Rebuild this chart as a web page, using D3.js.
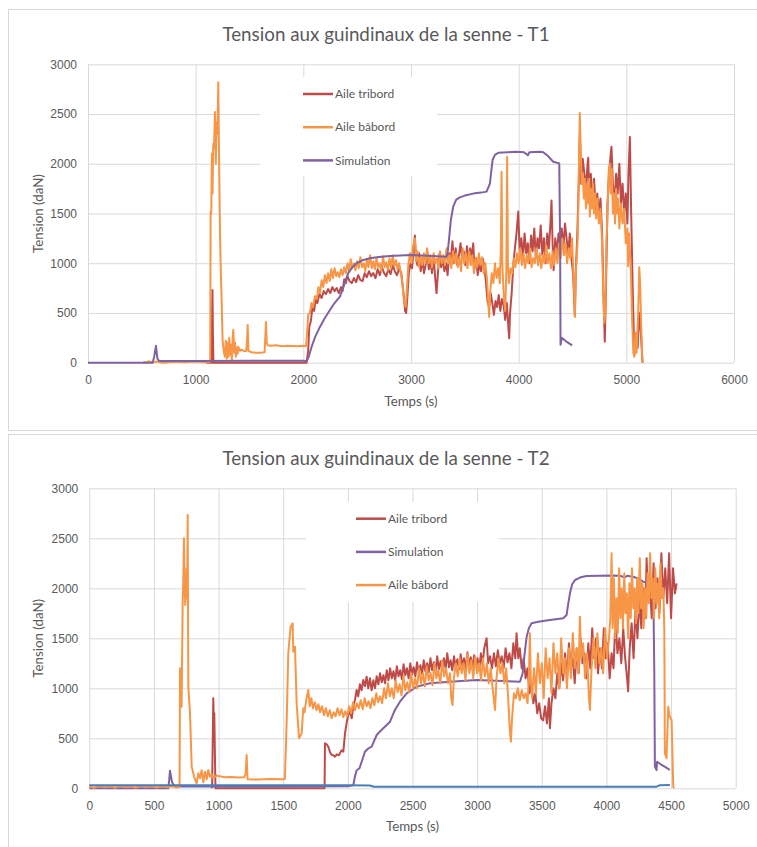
<!DOCTYPE html>
<html>
<head>
<meta charset="utf-8">
<script src="https://cdn.jsdelivr.net/npm/d3@7"></script>
<style>
  body { margin: 0; background: #fff; }
  svg { display: block; font-family: Lato, 'Open Sans', sans-serif; }
</style>
</head>
<body>
<script>
// ---- T1 : [temps (s), tension (daN)] ----
const t1Tribord = [
  [1100,0],[1150,0],[1152,420],[1156,730],[1160,300],[1165,0],[2030,0],[2045,120],[2055,360],[2070,420],
  [2085,560],[2100,520],[2115,640],[2130,600],[2150,690],[2170,650],[2190,720],[2210,690],[2230,740],[2250,700],
  [2270,760],[2290,720],[2310,750],[2330,700],[2350,760],[2365,720],[2380,840],[2395,800],[2410,870],[2430,820],
  [2450,800],[2470,850],[2490,810],[2510,880],[2530,830],[2550,820],[2570,900],[2590,860],[2610,920],[2630,870],
  [2650,900],[2670,850],[2690,940],[2710,880],[2730,960],[2750,900],[2770,870],[2790,940],[2810,890],[2830,980],
  [2850,920],[2870,880],[2890,950],[2910,900],[2930,700],[2945,520],[2955,500],[2965,640],[2980,900],[2995,1000],
  [3010,950],[3025,1150],[3036,1280],[3045,1050],[3060,980],[3075,1100],[3090,920],[3105,1050],[3120,900],[3135,980],
  [3150,1120],[3165,940],[3180,1020],[3195,900],[3210,1080],[3225,850],[3237,700],[3250,900],[3265,1100],[3280,960],
  [3295,1050],[3310,920],[3325,1000],[3340,880],[3355,1100],[3370,1050],[3385,1220],[3400,1000],[3415,1150],[3430,980],
  [3445,1080],[3460,1200],[3475,1050],[3490,1120],[3505,980],[3520,1170],[3535,1040],[3550,1150],[3565,1060],[3578,1200],
  [3590,950],[3605,1050],[3620,880],[3635,1000],[3650,920],[3665,1050],[3680,980],[3695,820],[3710,620],[3725,560],
  [3740,700],[3755,600],[3770,480],[3785,620],[3800,560],[3815,680],[3830,520],[3845,640],[3860,580],[3875,430],
  [3890,600],[3905,350],[3912,245],[3920,500],[3935,700],[3950,980],[3965,1150],[3980,1300],[3996,1520],[4010,1100],
  [4025,1250],[4040,1050],[4055,1300],[4070,1100],[4085,1200],[4100,1000],[4115,1280],[4130,1120],[4145,1350],[4160,1050],
  [4175,1250],[4190,1150],[4205,1380],[4220,1080],[4235,1250],[4250,1000],[4265,1300],[4280,1150],[4295,1400],[4305,1630],
  [4315,1200],[4325,930],[4340,1250],[4355,1100],[4370,1300],[4385,1200],[4400,1350],[4415,1150],[4430,1400],[4445,1250],
  [4460,1100],[4475,1300],[4490,1050],[4505,900],[4515,650],[4522,470],[4530,900],[4545,1300],[4560,1900],[4568,2300],
  [4580,1800],[4595,2050],[4610,1900],[4625,1750],[4640,2000],[4646,2060],[4655,1700],[4670,1900],[4685,1600],[4700,1850],
  [4715,1550],[4730,1700],[4745,1500],[4760,1650],[4775,1300],[4790,600],[4800,210],[4810,700],[4825,1600],[4840,1900],
  [4855,2100],[4862,2170],[4875,1800],[4890,1600],[4905,1900],[4920,1700],[4935,2000],[4950,1600],[4965,1800],[4980,1500],
  [4995,1700],[5010,1400],[5020,1900],[5033,2270],[5045,1500],[5060,700],[5075,80],[5090,300],[5105,150],[5120,500],
  [5135,300],[5150,0]
]

const t1Babord = [
  [514,10],[540,0],[560,15],[600,5],[640,12],[700,0],[800,10],[900,5],[1000,12],[1100,5],
  [1135,10],[1139,1520],[1145,1500],[1151,2100],[1157,1700],[1163,2200],[1170,2150],[1179,2520],[1187,2000],[1195,2420],
  [1202,2300],[1210,2820],[1218,2000],[1226,1300],[1234,900],[1241,630],[1250,230],[1260,120],[1272,60],[1280,220],
  [1288,40],[1296,200],[1304,60],[1312,250],[1320,80],[1328,180],[1336,30],[1344,260],[1350,330],[1358,100],
  [1366,200],[1374,60],[1382,150],[1390,90],[1396,160],[1410,120],[1430,130],[1450,115],[1470,120],[1478,250],
  [1483,380],[1490,120],[1520,105],[1560,100],[1600,100],[1640,105],[1648,280],[1653,410],[1660,200],[1670,175],
  [1700,170],[1750,175],[1800,165],[1850,170],[1900,168],[1950,165],[2000,170],[2025,165],[2035,300],[2045,480],
  [2061,500],[2075,600],[2090,560],[2108,670],[2125,640],[2140,760],[2155,700],[2170,830],[2185,760],[2200,880],
  [2215,800],[2230,900],[2245,820],[2260,940],[2275,850],[2290,950],[2305,870],[2320,910],[2335,860],[2350,940],
  [2365,880],[2380,960],[2395,900],[2410,1000],[2425,920],[2440,1040],[2455,950],[2470,1000],[2485,930],[2500,1020],
  [2515,950],[2530,1060],[2545,960],[2560,1000],[2575,920],[2590,1040],[2605,960],[2620,1080],[2635,950],[2650,1020],
  [2665,940],[2680,1050],[2695,960],[2710,1000],[2725,920],[2740,1070],[2755,960],[2770,1010],[2785,930],[2800,1050],
  [2815,950],[2830,1080],[2845,970],[2860,1030],[2875,940],[2890,1000],[2905,900],[2920,800],[2935,620],[2950,560],
  [2960,700],[2975,980],[2990,1100],[3005,1000],[3020,1180],[3036,1250],[3048,1020],[3060,1120],[3075,960],[3090,1080],
  [3105,980],[3120,1100],[3135,1000],[3150,1150],[3165,1000],[3180,1080],[3195,960],[3210,1100],[3225,1000],[3240,1050],
  [3255,950],[3270,1120],[3285,1000],[3300,1080],[3315,980],[3330,1150],[3345,1000],[3360,1080],[3375,950],[3390,1120],
  [3405,1000],[3420,1100],[3435,960],[3450,1060],[3465,920],[3480,1150],[3495,1000],[3510,1100],[3525,950],[3540,1120],
  [3555,980],[3570,1080],[3585,900],[3600,1050],[3615,960],[3630,1100],[3645,980],[3660,1060],[3675,900],[3690,1000],
  [3705,850],[3718,600],[3726,460],[3735,700],[3750,900],[3765,800],[3780,1000],[3795,850],[3810,950],[3825,800],
  [3835,1200],[3841,1920],[3848,1000],[3860,700],[3875,520],[3885,900],[3893,2070],[3900,1000],[3910,800],[3925,950],
  [3940,900],[3955,1050],[3970,960],[3985,1100],[4000,1000],[4015,1150],[4030,980],[4045,1100],[4060,950],[4075,1080],
  [4090,1000],[4105,1150],[4120,960],[4135,1050],[4150,1000],[4165,1150],[4180,980],[4195,1100],[4210,950],[4225,1080],
  [4240,1000],[4255,1180],[4270,1000],[4285,1100],[4300,950],[4315,1120],[4330,980],[4345,1150],[4360,1000],[4375,1200],
  [4390,1050],[4405,1250],[4420,1080],[4435,1200],[4450,1000],[4465,1150],[4480,1050],[4495,1250],[4505,1000],[4515,700],
  [4522,460],[4530,900],[4540,1050],[4550,1300],[4560,2000],[4568,2510],[4575,2200],[4585,1800],[4595,1900],[4605,1650],
  [4615,1850],[4625,1550],[4635,1800],[4645,1600],[4655,1850],[4661,1470],[4670,1750],[4680,1550],[4690,1800],[4700,1500],
  [4710,1700],[4720,1450],[4730,1650],[4745,1400],[4760,1550],[4775,1200],[4785,700],[4795,400],[4805,500],[4815,1200],
  [4825,1500],[4835,1900],[4845,2000],[4855,1700],[4865,1950],[4875,1500],[4885,1700],[4895,1400],[4905,1750],[4915,1500],
  [4925,1650],[4935,1350],[4950,1600],[4965,1400],[4980,1550],[4995,1200],[5010,1350],[5017,970],[5025,1300],[5040,1000],
  [5055,400],[5065,100],[5075,60],[5085,300],[5095,100],[5110,500],[5120,960],[5128,800],[5140,300],[5150,0]
]

const t1Simulation = [
  [0,0],[600,0],[615,60],[631,170],[645,40],[660,18],[1000,18],[1500,20],[2000,20],[2030,17],
  [2050,60],[2077,160],[2110,260],[2154,360],[2200,450],[2247,530],[2290,600],[2340,665],[2371,760],[2417,900],
  [2455,960],[2494,1000],[2550,1030],[2618,1050],[2700,1062],[2804,1072],[2900,1078],[2990,1082],[3100,1078],[3200,1072],
  [3330,1065],[3340,1100],[3352,1230],[3370,1430],[3392,1570],[3420,1640],[3454,1662],[3500,1680],[3578,1700],[3650,1710],
  [3702,1720],[3733,1800],[3745,1920],[3758,2040],[3780,2090],[3810,2110],[3900,2115],[3980,2120],[4050,2115],[4085,2085],
  [4100,2115],[4200,2120],[4228,2115],[4270,2080],[4321,2020],[4377,2004],[4385,1200],[4389,180],[4400,250],[4440,215],
  [4497,175]
]

// ---- T2 ----
const t2Tribord = [
  [950,0],[955,500],[959,900],[963,700],[967,750],[972,300],[976,0],[1820,0],[1823,450],
  [1836,440],[1849,416],[1862,360],[1875,333],[1888,330],[1900,316],[1915,340],[1930,330],[1939,350],[1952,380],
  [1965,366],[1978,550],[1990,650],[2003,733],[2016,766],[2030,700],[2042,820],[2055,883],[2068,983],[2080,920],
  [2093,1040],[2106,980],[2119,1083],[2132,1020],[2145,1116],[2158,1000],[2171,1100],[2184,980],[2197,1080],[2210,1000],
  [2223,1120],[2236,1040],[2249,1150],[2262,1060],[2275,1130],[2288,1050],[2301,1180],[2314,1080],[2327,1200],[2340,1100],
  [2353,1170],[2366,1080],[2379,1220],[2392,1120],[2405,1180],[2418,1090],[2431,1240],[2444,1130],[2457,1200],[2470,1100],
  [2483,1250],[2496,1140],[2509,1210],[2522,1120],[2535,1260],[2548,1160],[2561,1230],[2574,1140],[2587,1280],[2600,1170],
  [2613,1250],[2626,1160],[2639,1300],[2652,1180],[2665,1260],[2678,1170],[2691,1320],[2704,1190],[2717,1270],[2730,1180],
  [2743,1300],[2756,1200],[2769,1350],[2782,1210],[2795,1280],[2808,1180],[2821,1320],[2834,1210],[2847,1290],[2860,1190],
  [2873,1340],[2886,1220],[2899,1300],[2912,1200],[2925,1360],[2938,1230],[2951,1310],[2964,1200],[2977,1330],[2990,1220],
  [3003,1300],[3016,1180],[3029,1350],[3042,1240],[3055,1400],[3073,1500],[3085,1250],[3100,1320],[3115,1200],[3130,1350],
  [3145,1220],[3160,1380],[3175,1250],[3190,1320],[3205,1200],[3220,1400],[3235,1260],[3250,1350],[3265,1200],[3280,1450],
  [3295,1300],[3305,1550],[3318,1300],[3330,1400],[3345,1200],[3360,1300],[3375,1100],[3390,1200],[3405,950],[3420,1050],
  [3435,850],[3450,950],[3465,750],[3480,850],[3495,700],[3511,680],[3525,820],[3540,650],[3555,900],[3563,600],
  [3575,850],[3590,1000],[3605,900],[3620,1150],[3635,1000],[3650,1250],[3665,1080],[3680,1350],[3695,1100],[3710,1450],
  [3725,1200],[3740,1300],[3755,1050],[3770,1400],[3785,1150],[3800,1500],[3815,1250],[3830,1350],[3845,1100],[3860,1450],
  [3875,1200],[3890,1600],[3905,1300],[3920,1500],[3935,1150],[3950,1400],[3965,1200],[3980,1600],[3995,1300],[4010,1450],
  [4025,1100],[4040,1350],[4055,1200],[4070,1700],[4085,1350],[4100,1500],[4115,1250],[4130,1600],[4145,1300],[4160,1100],
  [4168,970],[4180,1400],[4195,1650],[4210,1300],[4225,1800],[4240,1500],[4255,1900],[4270,1600],[4285,2000],[4300,1700],
  [4311,2300],[4322,1900],[4335,2100],[4350,1700],[4365,2250],[4380,1800],[4395,2100],[4410,1750],[4425,2350],[4440,1900],
  [4455,2200],[4470,1850],[4485,2350],[4500,1700],[4515,2200],[4530,1950],[4543,2050]
]

const t2Simulation = [
  [0,0],[610,0],[618,80],[624,176],[640,60],[660,20],[680,18],[1000,18],[1500,18],[2000,20],
  [2042,30],[2055,120],[2068,180],[2090,200],[2107,266],[2132,366],[2160,400],[2184,416],[2223,533],[2250,570],
  [2274,600],[2326,666],[2364,783],[2403,866],[2455,950],[2532,1016],[2635,1050],[2790,1066],[2996,1083],[3150,1075],
  [3331,1066],[3352,1150],[3368,1350],[3383,1516],[3400,1600],[3421,1650],[3473,1666],[3550,1680],[3666,1700],[3692,1733],
  [3705,1850],[3718,1950],[3735,2040],[3757,2083],[3800,2110],[3847,2123],[3950,2126],[4050,2128],[4104,2126],[4140,2110],
  [4160,2125],[4207,2116],[4250,2095],[4285,2066],[4362,2050],[4370,1200],[4375,216],[4388,183],[4392,266],[4420,240],
  [4460,210],[4491,183]
]

const t2Babord = [
  [0,15],[40,5],[80,25],[120,10],[160,20],[200,5],[240,25],[280,10],[320,20],[360,5],
  [400,25],[440,12],[480,22],[520,8],[560,20],[600,10],[640,20],[680,8],[698,15],[702,1200],
  [708,1150],[714,816],[718,1300],[722,1833],[727,2066],[732,2500],[737,2100],[742,1833],[748,2000],[753,2200],
  [757,1900],[761,2733],[766,1016],[779,750],[792,216],[810,120],[830,50],[843,150],[856,100],[869,180],
  [882,60],[895,166],[908,90],[920,183],[933,116],[946,140],[959,100],[972,116],[985,130],[998,123],
  [1050,110],[1100,112],[1150,108],[1200,110],[1210,150],[1217,333],[1224,90],[1300,88],[1400,92],[1500,90],
  [1513,95],[1527,683],[1539,1350],[1557,1616],[1573,1650],[1578,1366],[1591,1416],[1604,850],[1622,500],[1643,550],
  [1655,800],[1665,760],[1680,900],[1694,983],[1705,820],[1718,900],[1730,800],[1745,860],[1758,780],[1772,840],
  [1785,760],[1800,820],[1815,730],[1830,800],[1845,720],[1860,780],[1875,700],[1890,760],[1905,720],[1920,800],
  [1935,730],[1950,790],[1965,710],[1980,770],[1995,720],[2010,820],[2025,750],[2040,860],[2055,780],[2070,850],
  [2085,800],[2100,880],[2115,790],[2130,900],[2145,820],[2160,870],[2175,800],[2190,900],[2205,830],[2220,950],
  [2235,860],[2250,920],[2265,850],[2280,1000],[2295,900],[2310,1050],[2325,920],[2340,1000],[2355,900],[2370,1080],
  [2385,960],[2400,1040],[2415,930],[2430,1120],[2445,980],[2460,1060],[2475,960],[2490,1150],[2505,1000],[2520,1100],
  [2535,1000],[2550,1200],[2565,1050],[2580,1150],[2595,1020],[2610,1220],[2625,1080],[2640,1150],[2655,1030],[2670,1250],
  [2685,1100],[2700,1180],[2715,1050],[2730,1280],[2745,1120],[2760,1200],[2775,1050],[2790,1150],[2800,900],[2810,833],
  [2820,1100],[2835,1250],[2850,1120],[2865,1300],[2880,1150],[2895,1250],[2910,1080],[2925,1350],[2940,1150],[2955,1280],
  [2970,1100],[2985,1320],[3000,1150],[3015,1250],[3030,1080],[3045,1300],[3060,1120],[3075,1250],[3090,1050],[3105,1200],
  [3120,1000],[3138,783],[3150,1100],[3165,1300],[3180,1150],[3195,1250],[3210,1050],[3225,1200],[3240,900],[3252,600],
  [3261,466],[3270,700],[3285,950],[3300,900],[3315,1000],[3330,880],[3345,980],[3360,900],[3375,950],[3390,850],
  [3400,1100],[3408,1550],[3415,1100],[3425,900],[3440,1200],[3455,950],[3470,1350],[3485,1050],[3500,1250],[3515,900],
  [3530,1400],[3545,1100],[3560,1300],[3575,950],[3590,1450],[3605,1150],[3620,1350],[3635,1000],[3650,1500],[3665,1150],
  [3680,1300],[3695,1000],[3710,1400],[3725,1100],[3740,1550],[3755,1200],[3770,1400],[3785,1150],[3795,1716],[3805,1300],
  [3820,1450],[3835,1100],[3850,1350],[3865,900],[3872,783],[3885,1200],[3900,1500],[3915,1200],[3930,1550],[3945,1250],
  [3960,1400],[3975,1150],[3990,1600],[4005,1300],[4020,1500],[4030,1700],[4040,2350],[4048,1600],[4058,2100],[4068,1500],
  [4078,1900],[4088,1550],[4098,2200],[4108,1700],[4118,2000],[4128,1600],[4138,2150],[4148,1750],[4158,1950],[4168,1500],
  [4178,2050],[4188,1700],[4198,2200],[4208,1800],[4218,2000],[4228,1650],[4238,2100],[4248,1750],[4258,2300],[4268,1800],
  [4278,2050],[4288,1600],[4298,2000],[4308,1700],[4318,2150],[4328,1850],[4338,2350],[4348,1900],[4358,2100],[4368,1700],
  [4378,2200],[4388,1850],[4398,2050],[4408,1700],[4418,2250],[4428,1900],[4440,2000],[4448,1580],[4452,350],[4465,300],
  [4478,816],[4490,720],[4504,683],[4517,16],[4525,0]
]

// serie sans entree de legende (bleue, proche de zero)
const t2Autre = [
  [0,30],[500,30],[1000,30],[1500,30],[2000,30],[2170,28],[2200,16],[3000,16],[4000,16],[4388,16],
  [4410,30],[4491,33]
]

const yTicks = [0, 500, 1000, 1500, 2000, 2500, 3000]
const t1XTicks = [0, 1000, 2000, 3000, 4000, 5000, 6000]
const t2XTicks = [0, 500, 1000, 1500, 2000, 2500, 3000, 3500, 4000, 4500, 5000]

const RED = '#be4b48', ORANGE = '#f79646', PURPLE = '#7f62a1', BLUE = '#4a7ebb'
const GRID = '#d9d9d9', TXT = '#595959'

const svg = d3.select('body').append('svg').attr('width', 757).attr('height', 847)

function drawPanel({ frameTop, frameBottom, title, titleY, plot, xTicks, series, legend, legendBox, xTitleY }) {
  const g = svg.append('g')

  g.append('rect')
    .attr('x', 8.5).attr('y', frameTop + 0.5)
    .attr('width', 770).attr('height', frameBottom - frameTop)
    .attr('fill', '#fff').attr('stroke', GRID)

  const x = d3.scaleLinear().domain([0, d3.max(xTicks)]).range([plot.left, plot.right])
  const y = d3.scaleLinear().domain([0, 3000]).range([plot.bottom, plot.top])

  // grid
  g.append('g')
    .attr('transform', `translate(0,${plot.bottom})`)
    .call(d3.axisBottom(x).tickValues(xTicks).tickSize(-(plot.bottom - plot.top)).tickFormat(''))
    .call(a => a.select('.domain').remove())
    .call(a => a.selectAll('line').attr('stroke', GRID))
  g.append('g')
    .attr('transform', `translate(${plot.left},0)`)
    .call(d3.axisLeft(y).tickValues(yTicks).tickSize(-(plot.right - plot.left)).tickFormat(''))
    .call(a => a.select('.domain').remove())
    .call(a => a.selectAll('line').attr('stroke', GRID))

  // legend background hides the grid
  g.append('rect')
    .attr('x', legendBox.x).attr('y', legendBox.y)
    .attr('width', legendBox.w).attr('height', legendBox.h)
    .attr('fill', '#fff')

  // tick labels
  g.append('g')
    .attr('transform', `translate(0,${plot.bottom})`)
    .call(d3.axisBottom(x).tickValues(xTicks).tickSize(0).tickPadding(13).tickFormat(d3.format('d')))
    .call(a => a.select('.domain').remove())
    .call(a => a.selectAll('text').attr('fill', TXT).style('font-size', '12px').style('font-family', 'inherit'))
  g.append('g')
    .attr('transform', `translate(${plot.left},0)`)
    .call(d3.axisLeft(y).tickValues(yTicks).tickSize(0).tickPadding(11).tickFormat(d3.format('d')))
    .call(a => a.select('.domain').remove())
    .call(a => a.selectAll('text').attr('fill', TXT).style('font-size', '12px').style('font-family', 'inherit'))

  const line = d3.line().x(d => x(d[0])).y(d => y(d[1]))

  series.forEach(s => {
    g.append('path')
      .datum(s.data)
      .attr('fill', 'none')
      .attr('stroke', s.color)
      .attr('stroke-width', 2)
      .attr('stroke-linejoin', 'round')
      .attr('d', line)
  })

  // titles
  g.append('text')
    .attr('x', 386).attr('y', titleY)
    .attr('text-anchor', 'middle')
    .attr('fill', TXT).style('font-size', '18.8px')
    .text(title)
  g.append('text')
    .attr('x', (plot.left + plot.right) / 2).attr('y', xTitleY)
    .attr('text-anchor', 'middle')
    .attr('fill', TXT).style('font-size', '13.3px')
    .text('Temps (s)')
  g.append('text')
    .attr('transform', `translate(42.5,${(plot.top + plot.bottom) / 2}) rotate(-90)`)
    .attr('text-anchor', 'middle')
    .attr('fill', TXT).style('font-size', '13.3px')
    .text('Tension (daN)')

  // legend
  const lg = g.append('g').selectAll('g')
    .data(legend)
    .join('g')
    .attr('transform', (d, i) => `translate(${legendBox.lineX},${legendBox.firstY + i * 33.2})`)
  lg.append('line')
    .attr('x1', 0).attr('x2', 30)
    .attr('stroke', d => d.color).attr('stroke-width', 2.5)
  lg.append('text')
    .attr('x', 32).attr('dy', '0.35em')
    .attr('fill', TXT).style('font-size', '12px')
    .text(d => d.name)
}

drawPanel({
  frameTop: 9, frameBottom: 430,
  title: 'Tension aux guindinaux de la senne - T1', titleY: 41,
  plot: { left: 88, right: 734, top: 64.3, bottom: 362.7 },
  xTicks: t1XTicks, xTitleY: 406,
  series: [
    { data: t1Tribord, color: RED },
    { data: t1Babord, color: ORANGE },
    { data: t1Simulation, color: PURPLE },
  ],
  legend: [
    { name: 'Aile tribord', color: RED },
    { name: 'Aile bâbord', color: ORANGE },
    { name: 'Simulation', color: PURPLE },
  ],
  legendBox: { x: 260, y: 77, w: 177, h: 99, lineX: 303, firstY: 94 },
})

drawPanel({
  frameTop: 434, frameBottom: 900,
  title: 'Tension aux guindinaux de la senne - T2', titleY: 465,
  plot: { left: 89.3, right: 735.7, top: 488.3, bottom: 788.3 },
  xTicks: t2XTicks, xTitleY: 831,
  series: [
    { data: t2Tribord, color: RED },
    { data: t2Simulation, color: PURPLE },
    { data: t2Babord, color: ORANGE },
    { data: t2Autre, color: BLUE },
  ],
  legend: [
    { name: 'Aile tribord', color: RED },
    { name: 'Simulation', color: PURPLE },
    { name: 'Aile bâbord', color: ORANGE },
  ],
  legendBox: { x: 306, y: 502, w: 193, h: 100, lineX: 356, firstY: 518.7 },
})
</script>
</body>
</html>
